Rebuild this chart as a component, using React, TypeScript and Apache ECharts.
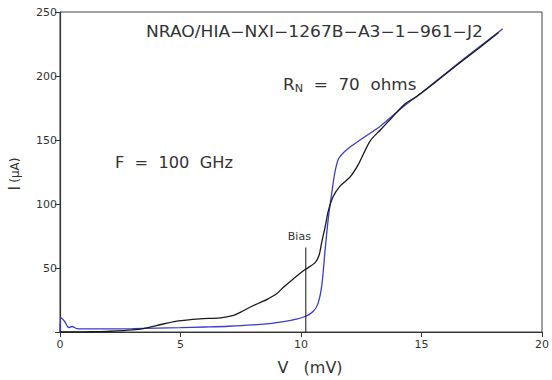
import React, { useEffect, useRef } from "react";
import * as echarts from "echarts";

const blueV = [0, 0.05, 0.2, 0.36, 0.5, 0.7, 1.0, 2.0, 3.0, 4.0, 5.0, 6.0, 7.0, 8.0, 8.8, 9.4, 9.8, 10.2, 10.5, 10.7, 10.86, 11.0, 11.14, 11.28, 11.41, 11.55, 11.76, 12.0, 12.45, 13.3, 14.24, 15.0, 16.0, 17.0, 18.0, 18.37];
const blueI = [0, 11, 8, 3.5, 4.3, 2.7, 2.5, 2.4, 2.6, 3.0, 3.4, 3.9, 4.5, 5.5, 6.8, 8.5, 10, 12.3, 16, 22, 36, 64, 90, 109, 125, 135, 140, 144, 150, 161, 176, 187, 202, 217, 231.5, 237];

const blackV = [0, 0.8, 1.5, 2.1, 3.0, 3.47, 4.0, 4.85, 5.8, 6.65, 7.2, 7.5, 7.9, 8.3, 8.6, 9.0, 9.27, 9.68, 10.17, 10.58, 10.75, 10.86, 11.0, 11.14, 11.34, 11.62, 12.03, 12.38, 12.86, 13.3, 13.7, 14.3, 14.8, 15.5, 16.5, 17.5, 18.2];
const blackI = [0, 0, 0.3, 0.6, 1.6, 2.7, 5, 8.5, 10.3, 11, 13, 15.5, 19.5, 23, 25.5, 30, 35, 41.5, 48.8, 54, 60, 70, 82, 95, 106, 114, 121, 131, 149, 158, 166, 178, 184, 194, 209, 223.5, 234];

const biasV = [10.2, 10.2];
const biasI = [0, 66];

const xTicks = [0, 5, 10, 15, 20];
const yTicks = [0, 50, 100, 150, 200, 250];

const zip = (a: number[], b: number[]) => a.map((v, i) => [v, b[i]]);

export default function App() {
  const ref = useRef<HTMLDivElement>(null);
  useEffect(() => {
    if (!ref.current) return;
    const chart = echarts.init(ref.current, null, { renderer: "svg" });
    const font = "'DejaVu Sans', sans-serif";
    chart.setOption({
      animation: false,
      backgroundColor: "#ffffff",
      grid: {
        left: 60,
        right: 10,
        top: 12,
        bottom: 48,
        show: true,
        borderColor: "#444",
        borderWidth: 1,
      },
      xAxis: {
        type: "value",
        min: xTicks[0],
        max: xTicks[xTicks.length - 1],
        interval: 5,
        axisLine: { lineStyle: { color: "#333", width: 1.2 } },
        axisTick: { length: 5, lineStyle: { color: "#333" } },
        axisLabel: { color: "#333", fontSize: 11, fontFamily: font, margin: 7 },
        splitLine: { show: false },
      },
      yAxis: {
        type: "value",
        min: yTicks[0],
        max: yTicks[yTicks.length - 1],
        interval: 50,
        axisLine: { show: true, lineStyle: { color: "#333", width: 1.2 } },
        axisTick: { show: true, length: 5, lineStyle: { color: "#333" } },
        axisLabel: {
          color: "#333",
          fontSize: 11,
          fontFamily: font,
          margin: 3,
          formatter: (v: number) => (v === 0 ? "" : String(v)),
        },
        splitLine: { show: false },
      },
      series: [
        {
          type: "line",
          data: zip(blueV, blueI),
          showSymbol: false,
          smooth: 0.3,
          lineStyle: { color: "#3a3ad4", width: 1.3 },
        },
        {
          type: "line",
          data: zip(blackV, blackI),
          showSymbol: false,
          smooth: 0.3,
          lineStyle: { color: "#1a1a1a", width: 1.3 },
        },
        {
          type: "line",
          data: zip(biasV, biasI),
          showSymbol: false,
          lineStyle: { color: "#111", width: 1 },
          endLabel: {
            show: true,
            formatter: "Bias",
            fontSize: 11,
            color: "#333",
            fontFamily: font,
            offset: [-26, -11],
          },
        },
      ],
      graphic: [
        {
          type: "text",
          x: 146,
          y: 32,
          scaleX: 1.14,
          style: {
            text: "NRAO/HIA−NXI−1267B−A3−1−961−J2",
            fontSize: 15,
            fontFamily: font,
            fill: "#333",
            align: "left",
            verticalAlign: "middle",
          },
        },
        {
          type: "text",
          x: 283,
          y: 85,
          scaleX: 1.12,
          style: {
            text: "{r|R}{s|N}{r|  =  70  ohms}",
            fontFamily: font,
            fill: "#333",
            align: "left",
            verticalAlign: "middle",
            rich: {
              r: { fontSize: 15, fontFamily: font, fill: "#333", verticalAlign: "bottom" },
              s: { fontSize: 10, fontFamily: font, fill: "#333", verticalAlign: "bottom", padding: [0, 0, -1, 0] },
            },
          },
        },
        {
          type: "text",
          x: 115,
          y: 163,
          scaleX: 1.08,
          style: {
            text: "F  =  100  GHz",
            fontSize: 15,
            fontFamily: font,
            fill: "#333",
            align: "left",
            verticalAlign: "middle",
          },
        },
        {
          type: "text",
          x: 15,
          y: 174,
          rotation: Math.PI / 2,
          style: {
            text: "{a|I} {b|(µA)}",
            align: "center",
            verticalAlign: "middle",
            fill: "#333",
            rich: {
              a: { fontSize: 15, fontFamily: font, fill: "#333" },
              b: { fontSize: 12, fontFamily: font, fill: "#333" },
            },
          },
        },
        {
          type: "text",
          x: 310,
          y: 367,
          style: {
            text: "V   (mV)",
            align: "center",
            verticalAlign: "middle",
            fontSize: 16,
            fontFamily: font,
            fill: "#333",
          },
        },
      ],
    });
    return () => chart.dispose();
  }, []);
  return <div ref={ref} style={{ width: 552, height: 380, position: "absolute", left: 0, top: 0 }} />;
}
